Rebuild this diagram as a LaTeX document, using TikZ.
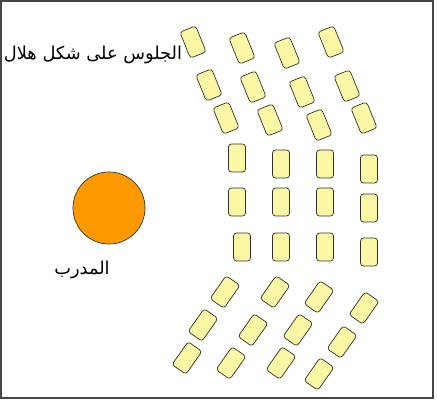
\documentclass[tikz,border=0pt]{standalone}
\usepackage{fontspec}
\TeXXeTstate=1
\newfontfamily\arabicfont[Script=Arabic]{DejaVu Sans}
\definecolor{chairfill}{RGB}{250,247,165}
\definecolor{chairline}{RGB}{50,50,40}
\definecolor{coachorange}{RGB}{255,153,0}
\definecolor{framegray}{RGB}{70,70,70}
\tikzset{
  chair/.style={draw=chairline, fill=chairfill, line width=0.7pt, rounded corners=3pt,
    minimum width=17pt, minimum height=28pt, inner sep=0pt},
  upchair/.style={chair, rotate=22},
  downchair/.style={chair, rotate=-35},
  label/.style={font=\arabicfont\fontsize{17.8}{20}\selectfont, inner sep=0pt}
}
\begin{document}
\begin{tikzpicture}[x=1pt,y=1pt]
\useasboundingbox (0,0) rectangle (437,-403);
\draw[framegray, line width=1.5pt] (1,-1) rectangle (433,-398);
% top group
\node[upchair] (t11) at (193,-42) {};
\node[upchair] (t12) at (242,-48) {};
\node[upchair] (t13) at (287,-53) {};
\node[upchair] (t14) at (331,-42) {};
\node[upchair] (t21) at (209,-85) {};
\node[upchair] (t22) at (253,-87) {};
\node[upchair] (t23) at (302,-92) {};
\node[upchair] (t24) at (347,-86) {};
\node[upchair] (t31) at (226,-118) {};
\node[upchair] (t32) at (270,-120) {};
\node[upchair] (t33) at (319,-125) {};
\node[upchair] (t34) at (364,-118) {};
% middle group
\node[chair] (m11) at (237,-158) {};
\node[chair] (m12) at (281,-164) {};
\node[chair] (m13) at (325,-164) {};
\node[chair] (m14) at (369,-169) {};
\node[chair] (m21) at (237,-202) {};
\node[chair] (m22) at (281,-202) {};
\node[chair] (m23) at (325,-202) {};
\node[chair] (m24) at (369,-208) {};
\node[chair] (m31) at (242,-247) {};
\node[chair] (m32) at (281,-247) {};
\node[chair] (m33) at (325,-247) {};
\node[chair] (m34) at (369,-252) {};
% bottom group
\node[downchair] (b11) at (225,-292) {};
\node[downchair] (b12) at (275,-292) {};
\node[downchair] (b13) at (319,-297) {};
\node[downchair] (b14) at (364,-308) {};
\node[downchair] (b21) at (203,-325) {};
\node[downchair] (b22) at (253,-330) {};
\node[downchair] (b23) at (298,-330) {};
\node[downchair] (b24) at (342,-342) {};
\node[downchair] (b31) at (187,-358) {};
\node[downchair] (b32) at (231,-363) {};
\node[downchair] (b33) at (281,-363) {};
\node[downchair] (b34) at (319,-374) {};
% coach
\node[circle, draw=chairline, fill=coachorange, line width=0.7pt, minimum size=72pt, inner sep=0pt] (coach) at (109,-208) {};
\node[label] (title) at (93,-55) {\beginR الجلوس على شكل هلال\endR};
\node[label] (coachlabel) at (82,-270) {\beginR المدرب\endR};
\end{tikzpicture}
\end{document}
